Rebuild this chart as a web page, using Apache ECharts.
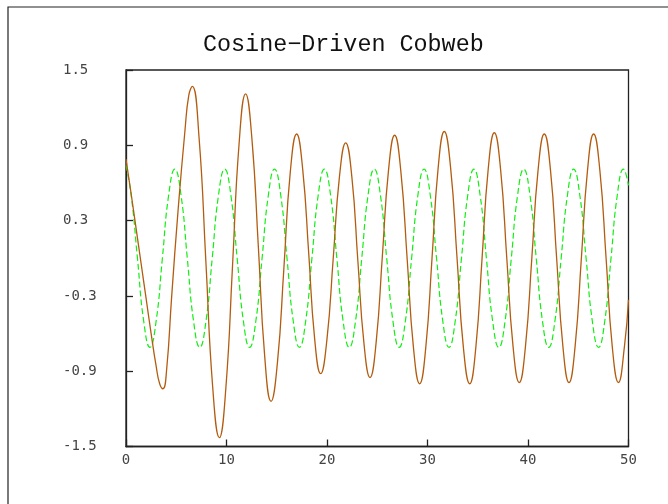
<!DOCTYPE html>
<html>
<head>
<meta charset="utf-8">
<script src="https://cdn.jsdelivr.net/npm/echarts@6/dist/echarts.min.js"></script>
<style>
  html, body { margin: 0; padding: 0; background: #fff; }
  #chart { width: 668px; height: 504px; }
</style>
</head>
<body>
<div id="chart"></div>
<script>
// driving cosine (green dashed)
var greenX = [0, 0.52, 1.14, 1.76, 2.38, 3.00, 3.62, 4.24, 4.86, 5.48, 6.10, 6.72, 7.34, 7.96, 8.58, 9.20,
  9.82, 10.44, 11.06, 11.68, 12.30, 12.92, 13.54, 14.16, 14.78, 15.40, 16.02, 16.64, 17.26, 17.88, 18.50, 19.12,
  19.74, 20.36, 20.98, 21.60, 22.22, 22.84, 23.46, 24.08, 24.70, 25.32, 25.94, 26.56, 27.18, 27.80, 28.42, 29.04,
  29.66, 30.28, 30.90, 31.52, 32.14, 32.76, 33.38, 34.00, 34.62, 35.24, 35.86, 36.48, 37.10, 37.72, 38.34, 38.96,
  39.58, 40.20, 40.82, 41.44, 42.06, 42.68, 43.30, 43.92, 44.54, 45.16, 45.78, 46.40, 47.02, 47.64, 48.26, 48.88,
  49.50, 50];
var greenY = [0.74, 0.50, 0, -0.50, -0.71, -0.50, 0, 0.50, 0.71, 0.50, 0, -0.50, -0.71, -0.50, 0, 0.50,
  0.71, 0.50, 0, -0.50, -0.71, -0.50, 0, 0.50, 0.71, 0.50, 0, -0.50, -0.71, -0.50, 0, 0.50,
  0.71, 0.50, 0, -0.50, -0.71, -0.50, 0, 0.50, 0.71, 0.50, 0, -0.50, -0.71, -0.50, 0, 0.50,
  0.71, 0.50, 0, -0.50, -0.71, -0.50, 0, 0.50, 0.71, 0.50, 0, -0.50, -0.71, -0.50, 0, 0.50,
  0.71, 0.50, 0, -0.50, -0.71, -0.50, 0, 0.50, 0.71, 0.50, 0, -0.50, -0.71, -0.50, 0, 0.50,
  0.71, 0.58];

// response (brown)
var brownX = [0, 0.5, 1.0, 1.5, 2.0, 2.5, 3.0, 3.35, 3.68, 4.05, 4.54, 5.2, 5.87, 6.25, 6.6,
  7.27, 7.95, 8.62, 9.29, 9.94, 10.60, 11.25, 11.9, 12.53, 13.17, 13.80, 14.43, 15.07, 15.71, 16.34, 16.98,
  17.58, 18.18, 18.77, 19.37, 19.99, 20.62, 21.24, 21.86, 22.47, 23.07, 23.68, 24.28, 24.89, 25.51, 26.12, 26.73,
  27.35, 27.98, 28.60, 29.22, 29.83, 30.45, 31.06, 31.67, 32.30, 32.94, 33.57, 34.2, 34.81, 35.43, 36.04, 36.65,
  37.27, 37.89, 38.51, 39.13, 39.75, 40.38, 41.00, 41.62, 42.24, 42.85, 43.47, 44.08, 44.69, 45.31, 45.92, 46.53,
  47.15, 47.77, 48.38, 49.0, 49.6, 50];
var brownY = [0.79, 0.52, 0.24, -0.04, -0.32, -0.60, -0.86, -1.00, -1.04, -0.88, -0.31, 0.40, 1.02, 1.30, 1.37,
  0.96, -0.03, -1.02, -1.43, -1.03, -0.06, 0.91, 1.31, 0.95, 0.09, -0.78, -1.14, -0.83, -0.08, 0.68, 0.99,
  0.71, 0.04, -0.64, -0.92, -0.65, 0, 0.65, 0.92, 0.65, -0.02, -0.68, -0.95, -0.67, 0.02, 0.70, 0.98,
  0.69, -0.01, -0.71, -1.00, -0.71, 0, 0.72, 1.01, 0.72, 0, -0.71, -1.00, -0.71, 0, 0.71, 1.00,
  0.71, 0, -0.70, -0.99, -0.70, 0, 0.70, 0.99, 0.70, 0, -0.70, -0.99, -0.70, 0, 0.70, 0.99,
  0.70, 0, -0.70, -0.99, -0.70, -0.33];

var yTicks = [-1.5, -0.9, -0.3, 0.3, 0.9, 1.5];

function pairs(xs, ys) {
  var out = [];
  for (var i = 0; i < xs.length; i++) out.push([xs[i], ys[i]]);
  return out;
}

var chart = echarts.init(document.getElementById('chart'), null, { renderer: 'canvas' });

chart.setOption({
  backgroundColor: '#fff',
  animation: false,
  title: {
    text: 'Cosine\u2212Driven Cobweb',
    left: 198,
    top: 28,
    textStyle: {
      fontFamily: 'Liberation Mono',
      fontSize: 23.4,
      fontWeight: 'normal',
      color: '#111'
    }
  },
  graphic: [{
    type: 'rect',
    shape: { x: 8, y: 7, width: 800, height: 700 },
    style: { fill: 'none', stroke: '#222', lineWidth: 1.2 },
    silent: true
  }],
  grid: {
    left: 126,
    top: 70,
    right: 39.5,
    bottom: 57.5,
    show: true,
    borderColor: '#222',
    borderWidth: 1.3
  },
  xAxis: {
    type: 'value',
    min: 0,
    max: 50,
    interval: 10,
    axisLine: { show: true, onZero: false, lineStyle: { color: '#222', width: 1.3 } },
    axisTick: { show: true, inside: true, length: 7, lineStyle: { color: '#222', width: 1.3 } },
    axisLabel: {
      margin: 7,
      color: '#444',
      fontFamily: 'DejaVu Sans Mono',
      fontSize: 14
    },
    splitLine: { show: false }
  },
  yAxis: {
    type: 'value',
    min: -1.5,
    max: 1.5,
    interval: 0.6,
    axisLine: { show: true, onZero: false, lineStyle: { color: '#222', width: 1.3 } },
    axisTick: { show: true, inside: true, length: 7, lineStyle: { color: '#222', width: 1.3 } },
    axisLabel: {
      margin: 63,
      align: 'left',
      padding: [6, 0, 0, 0],
      color: '#444',
      fontFamily: 'DejaVu Sans Mono',
      fontSize: 14,
      formatter: function (v) {
        var t = yTicks.filter(function (k) { return Math.abs(k - v) < 1e-6; });
        return t.length ? t[0].toFixed(1) : '';
      }
    },
    splitLine: { show: false }
  },
  series: [
    {
      name: 'drive',
      type: 'line',
      data: pairs(greenX, greenY),
      smooth: 0.5,
      showSymbol: false,
      lineStyle: { color: '#11ee11', width: 1.2, type: [6, 3] },
      z: 2
    },
    {
      name: 'response',
      type: 'line',
      data: pairs(brownX, brownY),
      smooth: 0.5,
      showSymbol: false,
      lineStyle: { color: '#b35c0f', width: 1.3 },
      z: 3
    }
  ]
});
</script>
</body>
</html>
